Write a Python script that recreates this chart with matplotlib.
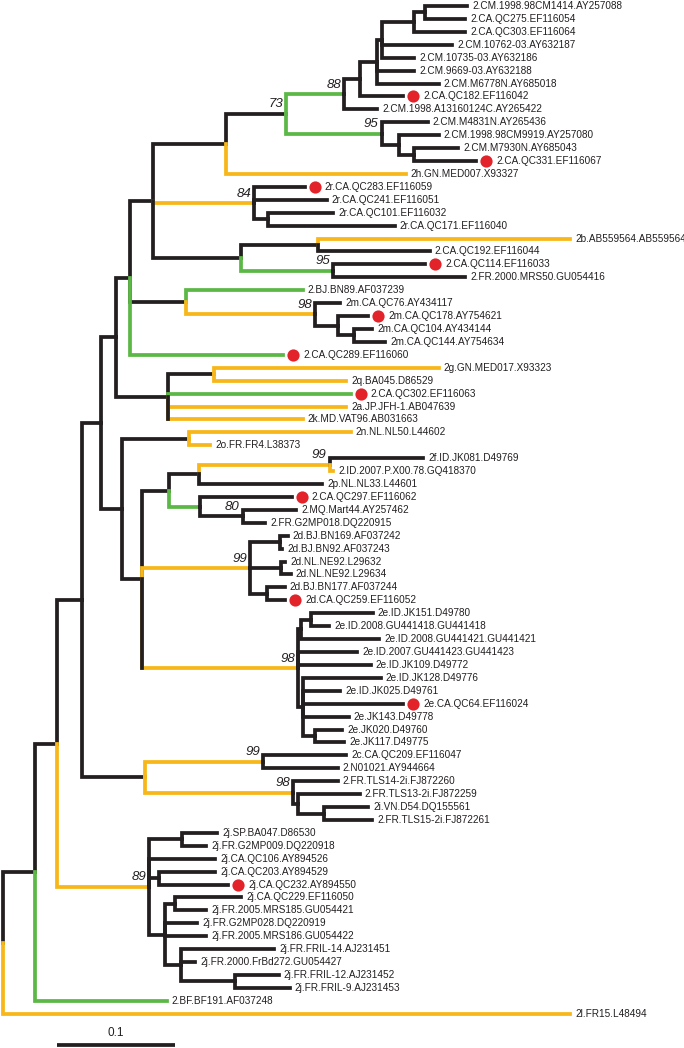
import matplotlib
matplotlib.use("Agg")
import matplotlib.pyplot as plt

# ---------------- data ----------------
leaf_names = [
    "2.CM.1998.98CM1414.AY257088", "2.CA.QC275.EF116054", "2.CA.QC303.EF116064",
    "2.CM.10762-03.AY632187", "2.CM.10735-03.AY632186", "2.CM.9669-03.AY632188",
    "2.CM.M6778N.AY685018", "2.CA.QC182.EF116042", "2.CM.1998.A13160124C.AY265422",
    "2.CM.M4831N.AY265436", "2.CM.1998.98CM9919.AY257080", "2.CM.M7930N.AY685043",
    "2.CA.QC331.EF116067", "2h.GN.MED007.X93327", "2r.CA.QC283.EF116059",
    "2r.CA.QC241.EF116051", "2r.CA.QC101.EF116032", "2r.CA.QC171.EF116040",
    "2b.AB559564.AB559564", "2.CA.QC192.EF116044", "2.CA.QC114.EF116033",
    "2.FR.2000.MRS50.GU054416", "2.BJ.BN89.AF037239", "2m.CA.QC76.AY434117",
    "2m.CA.QC178.AY754621", "2m.CA.QC104.AY434144", "2m.CA.QC144.AY754634",
    "2.CA.QC289.EF116060", "2g.GN.MED017.X93323", "2q.BA045.D86529",
    "2.CA.QC302.EF116063", "2a.JP.JFH-1.AB047639", "2k.MD.VAT96.AB031663",
    "2n.NL.NL50.L44602", "2o.FR.FR4.L38373", "2f.ID.JK081.D49769",
    "2.ID.2007.P.X00.78.GQ418370", "2p.NL.NL33.L44601", "2.CA.QC297.EF116062",
    "2.MQ.Mart44.AY257462", "2.FR.G2MP018.DQ220915", "2d.BJ.BN169.AF037242",
    "2d.BJ.BN92.AF037243", "2d.NL.NE92.L29632", "2d.NL.NE92.L29634",
    "2d.BJ.BN177.AF037244", "2d.CA.QC259.EF116052", "2e.ID.JK151.D49780",
    "2e.ID.2008.GU441418.GU441418", "2e.ID.2008.GU441421.GU441421",
    "2e.ID.2007.GU441423.GU441423", "2e.ID.JK109.D49772", "2e.ID.JK128.D49776",
    "2e.ID.JK025.D49761", "2e.CA.QC64.EF116024", "2e.JK143.D49778",
    "2e.JK020.D49760", "2e.JK117.D49775", "2c.CA.QC209.EF116047",
    "2.N01021.AY944664", "2.FR.TLS14-2i.FJ872260", "2.FR.TLS13-2i.FJ872259",
    "2i.VN.D54.DQ155561", "2.FR.TLS15-2i.FJ872261", "2j.SP.BA047.D86530",
    "2j.FR.G2MP009.DQ220918", "2j.CA.QC106.AY894526", "2j.CA.QC203.AY894529",
    "2j.CA.QC232.AY894550", "2j.CA.QC229.EF116050", "2j.FR.2005.MRS185.GU054421",
    "2j.FR.G2MP028.DQ220919", "2j.FR.2005.MRS186.GU054422", "2j.FR.FRIL-14.AJ231451",
    "2j.FR.2000.FrBd272.GU054427", "2j.FR.FRIL-12.AJ231452", "2j.FR.FRIL-9.AJ231453",
    "2.BF.BF191.AF037248", "2l.FR15.L48494",
]

# distance from root (substitutions/site) of each tip
leaf_depth = [
    0.3932, 0.3915, 0.3915, 0.3805, 0.3487, 0.3487, 0.3692, 0.3394, 0.3169,
    0.3598, 0.3692, 0.3856, 0.4008, 0.3413, 0.2558, 0.2744, 0.2799, 0.3319,
    0.4805, 0.3617, 0.3580, 0.3915, 0.2539, 0.2856, 0.3097, 0.3127, 0.3237,
    0.2373, 0.3692, 0.2911, 0.2948, 0.2911, 0.2539, 0.2948, 0.1758, 0.3561,
    0.2799, 0.2707, 0.2447, 0.2483, 0.2224, 0.2413, 0.2364, 0.2394, 0.2438,
    0.2386, 0.2390, 0.3134, 0.2763, 0.3190, 0.3004, 0.3115, 0.3201, 0.2856,
    0.3394, 0.2930, 0.2873, 0.2892, 0.2911, 0.2836, 0.2836, 0.3022, 0.3097,
    0.3127, 0.1814, 0.1720, 0.1797, 0.1797, 0.1907, 0.2017, 0.1720, 0.1647,
    0.1720, 0.2297, 0.1627, 0.2335, 0.2428, 0.1387, 0.4807,
]

# internal nodes: id, depth, children (ints = leaf index, str = node id)
node_ids = ["root", "A", "B", "AS", "AB", "Y", "T", "O", "D", "E", "F", "H", "Kp",
            "K", "J2", "J1", "G", "Ln", "M", "P", "Q", "N", "R", "S", "U", "V",
            "W", "X", "Z", "AA", "AD", "AE", "AF", "AG", "AJ", "AL", "AK", "AM",
            "AH", "AN", "AO", "AP", "AI", "AI1", "AQ", "AI2", "AR", "AT", "AU",
            "AV", "AW", "AX", "AY", "AZ", "BA", "BB", "BC", "BD", "BE"]
node_depth = [0.0, 0.0271, 0.0455, 0.0667, 0.0830, 0.0958, 0.1076, 0.1274, 0.1889,
              0.2398, 0.2890, 0.3025, 0.3169, 0.3216, 0.3487, 0.3573, 0.3208,
              0.3356, 0.3487, 0.2131, 0.2249, 0.2019, 0.2669, 0.2799, 0.1554,
              0.2644, 0.2836, 0.2978, 0.1398, 0.1785, 0.1011, 0.1573, 0.1174,
              0.1403, 0.1661, 0.2769, 0.1669, 0.2031, 0.2097, 0.2347, 0.2353,
              0.2235, 0.2504, 0.2525, 0.2614, 0.2542, 0.2644, 0.1201, 0.2205,
              0.2458, 0.2502, 0.2718, 0.1238, 0.1517, 0.1320, 0.1369, 0.1461,
              0.1506, 0.1963]
node_children = [
    ["A", 78], ["B", 77], ["AS", "AY"], ["AB", "AT"], ["Y", "AD"], ["T", "Z"],
    ["O", "U", 27], ["D", "P", "N"], ["E", 13], ["F", "G"], ["H", 8], ["Kp", 7],
    ["K", 5, 6], ["J2", 3, 4], ["J1", 2], [0, 1], [9, "Ln"], [10, "M"], [11, 12],
    [14, 15, "Q"], [16, 17], ["R", "S"], [18, 19], [20, 21], [22, "V"], [23, "W"],
    [24, "X"], [25, 26], ["AA", 30, 31, 32], [28, 29], ["AE", "AF"], [33, 34],
    ["AG", "AH", "AI"], ["AJ", "AK"], ["AL", 37], [35, 36], [38, "AM"], [39, 40],
    ["AN", "AO", "AP"], [41, 42], [43, 44], [45, 46], ["AI1", 50, 51, "AI2"],
    ["AQ", 49], [47, 48], [52, 53, 54, 55, "AR"], [56, 57], ["AU", "AV"],
    [58, 59], [60, "AW"], [61, "AX"], [62, 63], ["AZ", 66, "BA", "BB"], [64, 65],
    [67, 68], ["BC", 71, 72, "BD"], [69, 70], [73, 74, "BE"], [75, 76],
]

green_branches = ["F", "G", "S", 22, 27, 30, "AK", 77]
yellow_branches = [13, "P", 18, "V", 28, 29, 31, 32, 33, 34, "AL", 36, "AH", "AI",
                   "AU", "AV", "AY", 78]
# polytomy nodes whose lower bracket stays black in the reference
black_bracket_nodes = ["Z", "AF"]
red_dot_leaves = [7, 12, 14, 20, 24, 27, 30, 38, 46, 54, 68]
bootstrap_nodes = ["E", "F", "G", "P", "S", "V", "AL", "AM", "AH", "AI", "AU", "AV", "AY"]
bootstrap_values = [73, 88, 95, 84, 95, 98, 99, 80, 99, 98, 99, 98, 89]
scale_bar_length = 0.1

# ---------------- style ----------------
BLACK = "#231f20"
GREEN = "#5cb846"
YELLOW = "#f8b719"
RED = "#e3232a"
PX_PER_UNIT = 1180.0
ROOT_PX = 3.0
LEAF0_PX = 6.0
LEAF_STEP = 12.92
LW = 2.7
W, H = 684, 1048

fig = plt.figure(figsize=(W / 100, H / 100), dpi=100)
ax = fig.add_axes([0, 0, 1, 1])
ax.set_xlim(-ROOT_PX / PX_PER_UNIT, (W - ROOT_PX) / PX_PER_UNIT)
ax.set_ylim((H - LEAF0_PX) / LEAF_STEP, -LEAF0_PX / LEAF_STEP)
ax.axis("off")

depth = {nid: d for nid, d in zip(node_ids, node_depth)}
children = {nid: c for nid, c in zip(node_ids, node_children)}
for i, d in enumerate(leaf_depth):
    depth[i] = d

ypos = {}


def get_y(n):
    if isinstance(n, int):
        ypos[n] = float(n)
        return ypos[n]
    ys = [get_y(c) for c in children[n]]
    ypos[n] = (ys[0] + ys[-1]) / 2.0
    return ypos[n]


get_y("root")


def color_of(n):
    if n in green_branches:
        return GREEN
    if n in yellow_branches:
        return YELLOW
    return BLACK


def draw(n):
    if isinstance(n, int):
        return
    xp, yp = depth[n], ypos[n]
    for c in children[n]:
        ax.plot([xp, xp, depth[c]], [yp, ypos[c], ypos[c]], color=color_of(c),
                lw=LW, solid_joinstyle="miter", solid_capstyle="projecting",
                zorder=2)
        draw(c)
    if n in black_bracket_nodes:
        ys = [ypos[c] for c in children[n]]
        ax.plot([xp, xp], [yp, max(ys)], color=BLACK, lw=LW,
                solid_capstyle="projecting", zorder=2.5)


draw("root")

px = 1.0 / PX_PER_UNIT
for i, name in enumerate(leaf_names):
    x = leaf_depth[i]
    if i in red_dot_leaves:
        ax.plot([x + 10 * px], [i], "o", color=RED, ms=8.8, mec="none", zorder=3)
        tx = x + 20 * px
    else:
        tx = x + 5 * px
    ax.text(tx, i, name, fontsize=7.2, family=["Liberation Sans", "DejaVu Sans"],
            color=BLACK, ha="left", va="center")

for nid, val in zip(bootstrap_nodes, bootstrap_values):
    ax.annotate(str(val), (depth[nid], ypos[nid]), xytext=(-3, 3.5),
                textcoords="offset pixels", ha="right", va="bottom",
                fontsize=9.5, style="italic", color=BLACK,
                family=["Liberation Sans", "DejaVu Sans"])

# scale bar
x0 = (57 - ROOT_PX) / PX_PER_UNIT
yb = (1044.5 - LEAF0_PX) / LEAF_STEP
ax.plot([x0, x0 + scale_bar_length], [yb, yb], color=BLACK, lw=LW,
        solid_capstyle="butt")
ax.text(x0 + scale_bar_length / 2, (1033 - LEAF0_PX) / LEAF_STEP,
        str(scale_bar_length), ha="center", va="center", fontsize=8.5,
        color=BLACK, family=["Liberation Sans", "DejaVu Sans"])

fig.savefig("out.png", dpi=100)
